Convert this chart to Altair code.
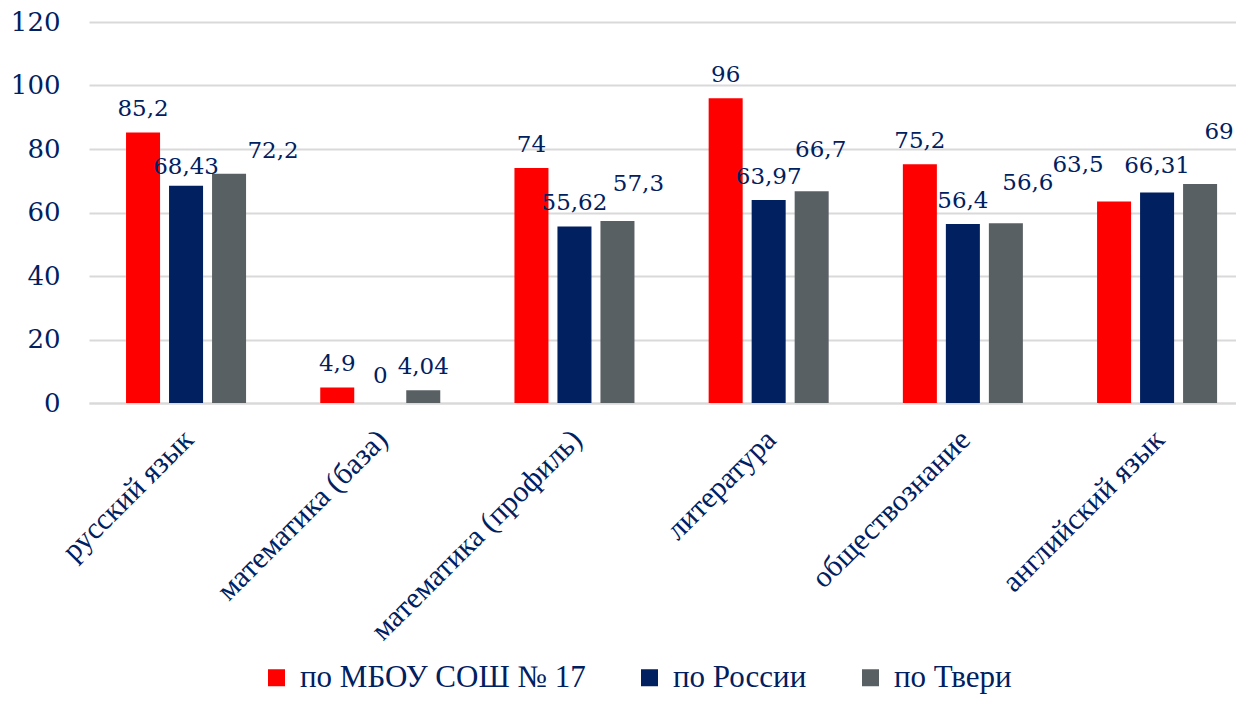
import altair as alt
import pandas as pd

categories = ["русский язык", "математика (база)", "математика (профиль)",
              "литература", "обществознание", "английский язык"]
series = ["по МБОУ СОШ № 17", "по России", "по Твери"]
colors = ["#FF0000", "#002060", "#596064"]

school = [85.2, 4.9, 74, 96, 75.2, 63.5]
russia = [68.43, 0, 55.62, 63.97, 56.4, 66.31]
tver = [72.2, 4.04, 57.3, 66.7, 56.6, 69]

# label nudges (dx, dy in px) for data labels that sit off-centre in the original
label_nudge = {
    (0, 1): (0, 4), (0, 2): (44, 0),
    (1, 1): (0, -4),
    (2, 2): (21, -14),
    (3, 2): (9, -18),
    (4, 2): (22, -17),
    (5, 0): (-36, -13), (5, 1): (0, -3), (5, 2): (19, -29),
}

TEXT = "#002060"

rows = []
for si, (s, vals) in enumerate(zip(series, [school, russia, tver])):
    for ci, (c, v) in enumerate(zip(categories, vals)):
        dx, dy = label_nudge.get((ci, si), (0, 0))
        rows.append({"cat": c, "series": s, "value": v,
                     "label": f"{v:g}".replace(".", ","),
                     "nudge": f"{dx}_{dy}"})
df = pd.DataFrame(rows)

x_enc = alt.X("cat:N", sort=categories,
              scale=alt.Scale(paddingInner=0.3357, paddingOuter=0.1209, align=0.693),
              axis=alt.Axis(title=None, labelAngle=-45, labelAlign="right",
                            labelBaseline="alphabetic", labelPadding=38, labelOffset=9,
                            labelFont="Liberation Serif", labelFontSize=30,
                            labelColor=TEXT, ticks=False, tickSize=0,
                            domainColor="#D9D9D9", domainWidth=2, grid=False,
                            labelLimit=500))
xo_enc = alt.XOffset("series:N", sort=series,
                     scale=alt.Scale(paddingInner=0.209, paddingOuter=0.1045))
y_enc = alt.Y("value:Q", scale=alt.Scale(domain=[0, 120]),
              axis=alt.Axis(title=None, values=[0, 20, 40, 60, 80, 100, 120],
                            labelFont="DejaVu Serif", labelFontSize=26,
                            labelColor=TEXT, labelPadding=29, ticks=False,
                            tickSize=0, domain=False, gridColor="#D9D9D9",
                            gridWidth=2))

base = alt.Chart(df).encode(x=x_enc, xOffset=xo_enc, y=y_enc)

bars = base.mark_bar().encode(
    color=alt.Color("series:N", sort=series,
                    scale=alt.Scale(domain=series, range=colors),
                    legend=alt.Legend(title=None, orient="none", direction="horizontal",
                                      legendX=172, legendY=640,
                                      symbolType="square", symbolSize=289,
                                      symbolStrokeWidth=0,
                                      labelFont="Liberation Serif", labelFontSize=31,
                                      labelColor=TEXT, labelOffset=8,
                                      columnPadding=48, labelLimit=600, padding=0))
)

texts = []
for nudge in sorted(df["nudge"].unique()):
    dx, dy = (int(p) for p in nudge.split("_"))
    texts.append(
        base.mark_text(font="DejaVu Serif", fontSize=23, color=TEXT,
                       baseline="alphabetic", align="center",
                       dx=dx, dy=-16 + dy)
        .encode(text="label:N")
        .transform_filter(alt.datum.nudge == nudge)
    )

chart = alt.layer(bars, *texts).properties(
    width=1147, height=381,
    autosize=alt.AutoSizeParams(type="none"),
    padding={"left": 81, "top": 14, "right": 0, "bottom": 291},
).configure_view(stroke=None)

chart.save("out.html", embed_options={"renderer": "svg", "actions": False})
